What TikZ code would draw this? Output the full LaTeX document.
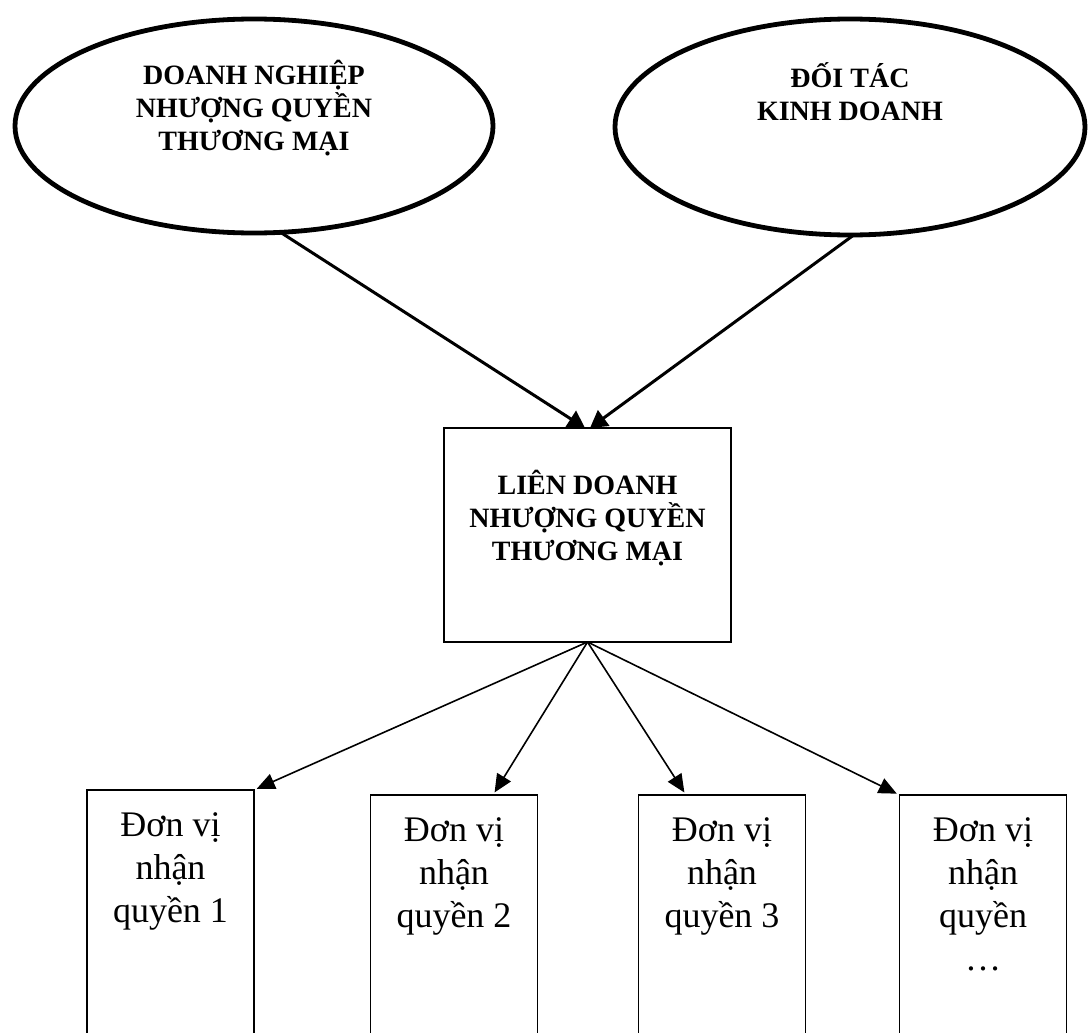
\documentclass[tikz,border=0pt]{standalone}
\usepackage{fontspec}
\setmainfont{Liberation Serif}
\usetikzlibrary{arrows.meta, positioning, shapes.geometric}

\tikzset{
  bigoval/.style={draw, ellipse, line width=2.4pt, inner sep=0pt, outer sep=0pt},
  jvbox/.style={draw, rectangle, line width=1pt, inner sep=0pt, outer sep=0pt},
  unitbox/.style={draw, rectangle, line width=0.9pt, inner sep=0pt, outer sep=0pt, minimum width=83.5pt},
  headtext/.style={align=center, inner sep=0pt, font=\bfseries\fontsize{14}{16.5}\selectfont},
  unittext/.style={align=center, inner sep=0pt, font=\fontsize{18}{21.5}\selectfont},
  thickarrow/.style={line width=1.5pt, -{Triangle[length=8.5pt,width=9.5pt]}},
  thinarrow/.style={line width=0.8pt, -{Triangle[length=9pt,width=8pt]}, shorten >=1.5pt}
}

\begin{document}
\begin{tikzpicture}[x=0.5pt, y=-0.5pt]
    \clip (0,0) rectangle (1088,1033);

    \node[bigoval, minimum width=239pt, minimum height=107pt] (dn) at (254,126) {};
    \node[bigoval, minimum width=235pt, minimum height=108pt] (dt) at (850,127) {};
    \node[headtext, below=20.5pt of dn.north] (dnText) {DOANH NGHIỆP\\NHƯỢNG QUYỀN\\THƯƠNG MẠI};
    \node[headtext, below=21.5pt of dt.north] (dtText) {ĐỐI TÁC\\KINH DOANH};

    \node[jvbox, minimum width=143.5pt, minimum height=107pt] (lien) at (587.5,535) {};
    \node[headtext, below=21pt of lien.north] (lienText) {LIÊN DOANH\\NHƯỢNG QUYỀN\\THƯƠNG MẠI};

    \draw[thickarrow] (dn.-76) -- ([xshift=-1.25pt]lien.north);
    \draw[thickarrow] (dt.-88) -- ([xshift=1.25pt]lien.north);

    \node[unitbox, minimum height=130pt] (d1) at (170.5,920) {};
    \node[unitbox, minimum height=127.5pt] (d2) at (454,922.5) {};
    \node[unitbox, minimum height=127.5pt] (d3) at (722,922.5) {};
    \node[unitbox, minimum height=127.5pt] (d4) at (983,922.5) {};
    \node[unittext, below=11pt of d1.north] (d1Text) {Đơn vị\\nhận\\quyền 1};
    \node[unittext, below=11pt of d2.north] (d2Text) {Đơn vị\\nhận\\quyền 2};
    \node[unittext, below=11pt of d3.north] (d3Text) {Đơn vị\\nhận\\quyền 3};
    \node[unittext, below=11pt of d4.north] (d4Text) {Đơn vị\\nhận\\quyền\\…};

    \draw[thinarrow] (lien.south) -- (d1.north east);
    \draw[thinarrow] (lien.south) -- ([xshift=19.5pt]d2.north);
    \draw[thinarrow] (lien.south) -- ([xshift=-18pt]d3.north);
    \draw[thinarrow] (lien.south) -- (d4.north west);
\end{tikzpicture}
\end{document}
